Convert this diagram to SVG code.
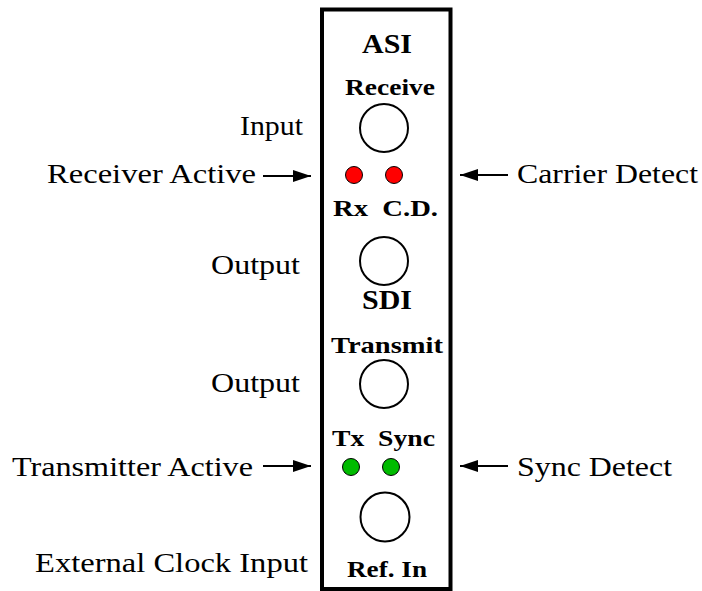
<svg xmlns="http://www.w3.org/2000/svg" width="702" height="591" viewBox="0 0 702 591">
<style>
text{font-family:"Liberation Serif","Times New Roman",Tinos,"Nimbus Roman",FreeSerif,Times,serif;fill:#000}
.lbl{font-size:27px}
.b{font-weight:bold}
.port{fill:#fff;stroke:#000;stroke-width:2}
.red{fill:#ff0000;stroke:#000;stroke-width:1}
.grn{fill:#00bb00;stroke:#000;stroke-width:1}
.conn{stroke:#000;stroke-width:2;fill:none}
</style>
<defs>
<marker id="arr" viewBox="0 0 18 12" refX="18" refY="6" markerWidth="18" markerHeight="12" orient="auto" markerUnits="userSpaceOnUse">
<path d="M0,0 L18,6 L0,12 Z" fill="#000"/>
</marker>
</defs>
<rect width="702" height="591" fill="#fff"/>
<g id="panel">
<rect x="322" y="9.5" width="128.5" height="579.5" fill="#fff" stroke="#000" stroke-width="4"/>
<text class="b" x="387" y="53" font-size="28" text-anchor="middle" textLength="50" lengthAdjust="spacingAndGlyphs">ASI</text>
<text class="b" x="390" y="95" font-size="24" text-anchor="middle" textLength="90" lengthAdjust="spacingAndGlyphs">Receive</text>
<text class="b" x="333" y="216" font-size="24" textLength="105" lengthAdjust="spacingAndGlyphs" xml:space="preserve">Rx  C.D.</text>
<text class="b" x="387" y="309" font-size="28" text-anchor="middle" textLength="50" lengthAdjust="spacingAndGlyphs">SDI</text>
<text class="b" x="387" y="353" font-size="24" text-anchor="middle" textLength="112" lengthAdjust="spacingAndGlyphs">Transmit</text>
<text class="b" x="332" y="446" font-size="24" textLength="103" lengthAdjust="spacingAndGlyphs" xml:space="preserve">Tx  Sync</text>
<text class="b" x="387" y="577" font-size="24" text-anchor="middle" textLength="80" lengthAdjust="spacingAndGlyphs">Ref. In</text>
</g>
<g id="rx-input"><circle class="port" cx="384" cy="128" r="24"/></g>
<g id="rx-led"><circle class="red" cx="354" cy="175" r="8.5"/></g>
<g id="cd-led"><circle class="red" cx="394" cy="175" r="8.5"/></g>
<g id="rx-output"><circle class="port" cx="384" cy="261" r="24"/></g>
<g id="tx-output"><circle class="port" cx="384" cy="384" r="24"/></g>
<g id="tx-led"><circle class="grn" cx="351" cy="467" r="8.5"/></g>
<g id="sync-led"><circle class="grn" cx="391" cy="467" r="8.5"/></g>
<g id="ref-in"><circle class="port" cx="385" cy="517" r="24.5"/></g>
<g id="labels">
<text class="lbl" x="240" y="135" textLength="63" lengthAdjust="spacingAndGlyphs">Input</text>
<text class="lbl" x="47" y="183" textLength="209" lengthAdjust="spacingAndGlyphs">Receiver Active</text>
<text class="lbl" x="211" y="274" textLength="89" lengthAdjust="spacingAndGlyphs">Output</text>
<text class="lbl" x="211" y="392" textLength="89" lengthAdjust="spacingAndGlyphs">Output</text>
<text class="lbl" x="12" y="476" textLength="241" lengthAdjust="spacingAndGlyphs">Transmitter Active</text>
<text class="lbl" x="35" y="572" textLength="273" lengthAdjust="spacingAndGlyphs">External Clock Input</text>
<text class="lbl" x="517" y="183" textLength="181" lengthAdjust="spacingAndGlyphs">Carrier Detect</text>
<text class="lbl" x="517" y="476" textLength="155" lengthAdjust="spacingAndGlyphs">Sync Detect</text>
</g>
<g id="connectors">
<line class="conn" x1="263" y1="176" x2="311" y2="176" marker-end="url(#arr)"/>
<line class="conn" x1="263" y1="466" x2="311" y2="466" marker-end="url(#arr)"/>
<line class="conn" x1="508" y1="175" x2="460" y2="175" marker-end="url(#arr)"/>
<line class="conn" x1="508" y1="466" x2="460" y2="466" marker-end="url(#arr)"/>
</g>
</svg>
